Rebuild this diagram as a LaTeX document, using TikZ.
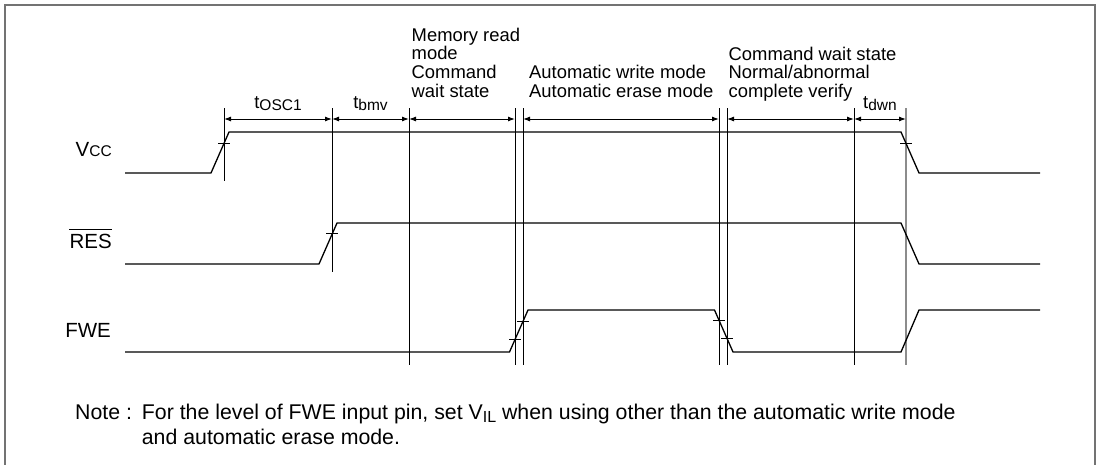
\documentclass[tikz,border=0pt]{standalone}
\usepackage{fontspec}
\setmainfont{Liberation Sans}
\usetikzlibrary{arrows.meta}
\newcommand{\subtxt}[1]{\raisebox{-2.5pt}{\fontsize{15.5}{15.5}\selectfont #1}}
\newcommand{\notesub}[1]{\raisebox{-3pt}{\fontsize{16}{16}\selectfont #1}}
\begin{document}
\begin{tikzpicture}[x=1pt,y=-1pt,
  sig/.style={line width=1.3pt, line join=miter},
  guide/.style={line width=1pt},
  guidegray/.style={line width=1.2pt, draw=black!45},
  tickmark/.style={line width=0.9pt},
  dim/.style={line width=1pt, {Latex[length=7pt,width=5pt]}-{Latex[length=7pt,width=5pt]}},
  lbl/.style={inner sep=0pt, font=\fontsize{18.4}{18.3}\selectfont},
  siglbl/.style={inner sep=0pt, font=\fontsize{20.5}{20.5}\selectfont},
  notelbl/.style={inner sep=0pt, font=\fontsize{21.3}{21.3}\selectfont},
  frame/.style={line width=1.5pt, draw=black!55}]
\useasboundingbox (0,0) rectangle (1100,464);
\draw[frame] (5,5) rectangle (1095,472);

% vertical guide lines
\coordinate (A) at (224,108); \coordinate (Ab) at (224,181);
\coordinate (B) at (332,108); \coordinate (Bb) at (332,272);
\coordinate (C) at (409,108); \coordinate (Cb) at (409,365);
\coordinate (D) at (515,108); \coordinate (Db) at (515,365);
\coordinate (E) at (523,108); \coordinate (Eb) at (523,365);
\coordinate (F) at (719,108); \coordinate (Fb) at (719,365);
\coordinate (G) at (727,108); \coordinate (Gb) at (727,365);
\coordinate (H) at (854,108); \coordinate (Hb) at (854,365);
\coordinate (I) at (906,108); \coordinate (Ib) at (906,365);
\foreach \t/\b in {A/Ab,B/Bb,C/Cb,D/Db,E/Eb,F/Fb,G/Gb,H/Hb} \draw[guide] (\t) -- (\b);
\draw[guidegray] (I) -- (Ib);

% dimension arrows
\draw[dim] (224,119) -- (332,119);
\draw[dim] (332,119) -- (409,119);
\draw[dim] (409,119) -- (515,119);
\draw[dim] (523,119) -- (719,119);
\draw[dim] (727,119) -- (854,119);
\draw[dim] (854,119) -- (906,119);

% signals
\draw[sig] (125,173) -- (211,173) -- (229,132) -- (901,132) -- (919,173) -- (1040,173);
\draw[sig] (125,264) -- (319,264) -- (337,223) -- (901,223) -- (919,264) -- (1040,264);
\draw[sig] (125,352) -- (509.5,352) -- (528,310) -- (714.5,310) -- (733,352) -- (901,352) -- (919,310) -- (1040,310);

% tick marks
\foreach \x/\y in {224/143, 332/233, 515/339.5, 523/321, 719/320, 727/338.5, 906/143}
  \draw[tickmark] (\x-6,\y) -- (\x+6,\y);

% signal labels
\node[siglbl, anchor=base east] (vcc) at (112,156.7) {V{\fontsize{15.5}{15.5}\selectfont CC}};
\node[siglbl, anchor=base east] (res) at (112,248.3) {RES};
\draw[line width=1pt] ([yshift=4.5pt]res.north west) -- ([yshift=4.5pt]res.north east);
\node[siglbl, anchor=base east] (fwe) at (111,337.3) {FWE};

% timing labels
\node[lbl, anchor=base] (tosc) at (278,108) {t\subtxt{OSC1}};
\node[lbl, anchor=base] (tbmv) at (370.5,108) {t\subtxt{bmv}};
\node[lbl, anchor=base] (tdwn) at (880,108) {t\subtxt{dwn}};

% state labels
\node[lbl, anchor=base west] (mem) at (411.5,41)
  {\begin{tabular}[t]{@{}l@{}}Memory read\\mode\\Command\\wait state\end{tabular}};
\node[lbl, anchor=base west] (auto) at (529,78.3)
  {\begin{tabular}[t]{@{}l@{}}Automatic write mode\\Automatic erase mode\end{tabular}};
\node[lbl, anchor=base west] (cmd) at (728.5,60)
  {\begin{tabular}[t]{@{}l@{}}Command wait state\\Normal/abnormal\\complete verify\end{tabular}};

% note
\node[notelbl, anchor=base west] (note) at (75,419) {Note :};
\node[notelbl, anchor=base west] (note1) at (141.7,419)
  {For the level of FWE input pin, set V\notesub{IL} when using other than the automatic write mode};
\node[notelbl, anchor=base west] (note2) at (141.7,444.7) {and automatic erase mode.};
\end{tikzpicture}
\end{document}
